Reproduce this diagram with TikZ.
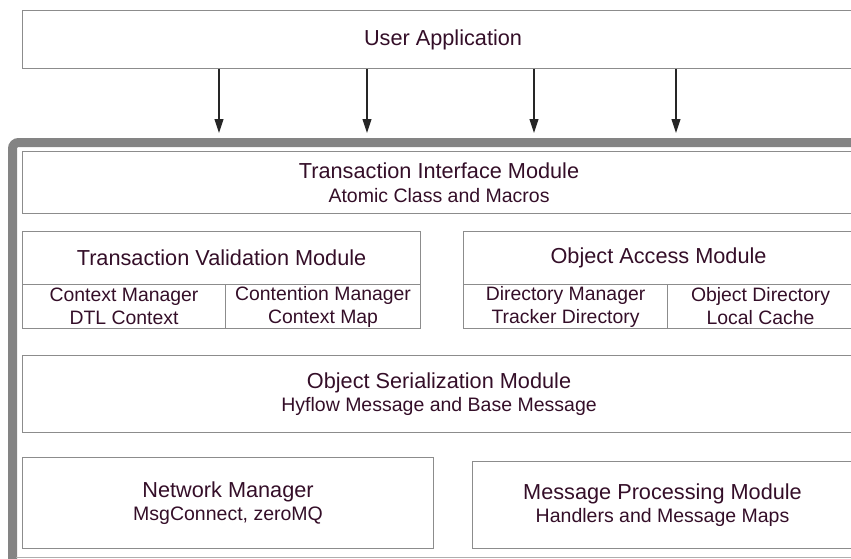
\documentclass[tikz,border=0pt]{standalone}
\usepackage{fontspec}
\setmainfont{Liberation Sans}
\usetikzlibrary{arrows.meta}
\definecolor{txtplum}{RGB}{52,14,40}
\definecolor{edgegray}{RGB}{140,140,140}
\definecolor{framegray}{RGB}{132,132,132}
\tikzset{
  module/.style={draw=edgegray, line width=1.1pt, text=txtplum, anchor=north west,
    inner sep=0pt, align=center, font=\fontsize{21.7}{23.5}\selectfont},
  cell/.style={module, font=\fontsize{19.4}{23}\selectfont},
  callarrow/.style={-{Triangle[length=14pt,width=9pt]}, line width=1.1pt, black!85}
}
\newcommand{\subline}[1]{{\fontsize{19.5}{23.5}\selectfont #1}}
\begin{document}
\begin{tikzpicture}[x=1pt,y=-1pt]
    \useasboundingbox (0,0) rectangle (851,558);
    \clip (0,0) rectangle (851,558);

    % Application on top
    \node[module, minimum width=841pt, minimum height=58pt] (app) at (22,10) {User Application};

    % Calls into the library
    \foreach \x [count=\i] in {219,367,534,676} {
        \coordinate (in\i) at (\x,133);
        \draw[callarrow] (app.south -| in\i) -- (in\i);
    }

    % Library frame
    \draw[framegray, line width=9pt, rounded corners=6pt] (12.5,575) -- (12.5,142.5) -- (875,142.5);
    \draw[edgegray!70, line width=1pt] (16,557) -- (860,557);

    % Interface module
    \node[module, minimum width=833pt, minimum height=62pt] (tim) at (22,151)
        {Transaction Interface Module\\\subline{Atomic Class and Macros}};

    % Validation module and its parts
    \node[module, minimum width=398pt, minimum height=53pt] (tvm) at (22,231) {Transaction Validation Module};
    \node[cell, minimum width=203pt, minimum height=44pt] (ctxmgr) at (22,284) {Context Manager\\DTL Context};
    \node[cell, minimum width=195pt, minimum height=44pt] (contmgr) at (225,284) {Contention Manager\\Context Map};

    % Access module and its parts
    \node[module, minimum width=390pt, minimum height=53pt] (oam) at (463,231) {Object Access Module};
    \node[cell, minimum width=204pt, minimum height=44pt] (dirmgr) at (463,284) {Directory Manager\\Tracker Directory};
    \node[cell, minimum width=186pt, minimum height=44pt] (objdir) at (667,284) {Object Directory\\Local Cache};

    % Serialization module
    \node[module, minimum width=833pt, minimum height=77pt] (osm) at (22,355)
        {Object Serialization Module\\\subline{Hyflow Message and Base Message}};

    % Network and message processing
    \node[module, minimum width=411pt, minimum height=91pt] (netmgr) at (22,457)
        {Network Manager\\\subline{MsgConnect, zeroMQ}};
    \node[module, minimum width=380pt, minimum height=87pt] (mpm) at (472,461)
        {Message Processing Module\\\subline{Handlers and Message Maps}};
\end{tikzpicture}
\end{document}
